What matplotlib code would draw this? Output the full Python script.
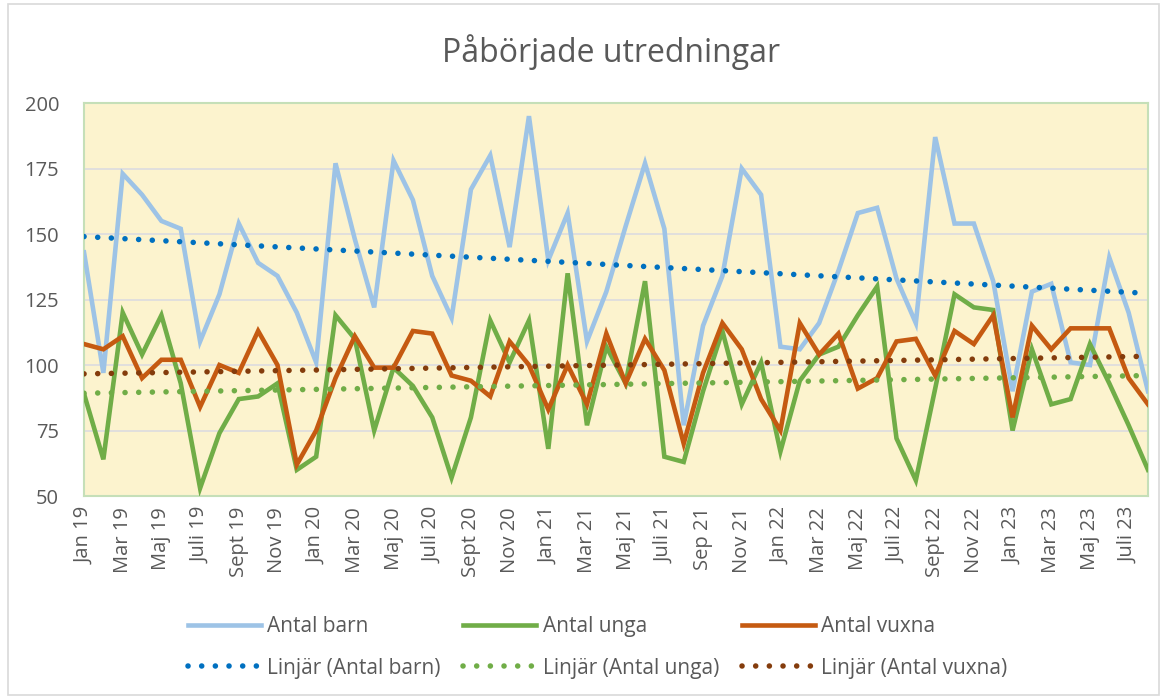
import numpy as np
import matplotlib
matplotlib.use("Agg")
import matplotlib.pyplot as plt
from matplotlib.patches import Rectangle

months = [
    "Jan 19", "Feb 19", "Mar 19", "Apr 19", "Maj 19", "Jun 19", "Juli 19", "Aug 19", "Sept 19", "Okt 19", "Nov 19", "Dec 19",
    "Jan 20", "Feb 20", "Mar 20", "Apr 20", "Maj 20", "Jun 20", "Juli 20", "Aug 20", "Sept 20", "Okt 20", "Nov 20", "Dec 20",
    "Jan 21", "Feb 21", "Mar 21", "Apr 21", "Maj 21", "Jun 21", "Juli 21", "Aug 21", "Sep 21", "Okt 21", "Nov 21", "Dec 21",
    "Jan 22", "Feb 22", "Mar 22", "Apr 22", "Maj 22", "Jun 22", "Juli 22", "Aug 22", "Sept 22", "Okt 22", "Nov 22", "Dec 22",
    "Jan 23", "Feb 23", "Mar 23", "Apr 23", "Maj 23", "Jun 23", "Juli 23", "Aug 23",
]

antal_barn = [
    143, 97, 173, 165, 155, 152, 109, 127, 154, 139, 134, 120,
    101, 177, 148, 122, 178, 163, 134, 118, 167, 180, 145, 195,
    140, 158, 109, 128, 153, 177, 152, 77, 115, 134, 175, 165,
    107, 106, 116, 136, 158, 160, 133, 116, 187, 154, 154, 132,
    90, 128, 131, 101, 100, 141, 120, 90,
]
antal_unga = [
    89, 64, 120, 104, 119, 93, 53, 74, 87, 88, 93, 60,
    65, 119, 110, 75, 99, 92, 80, 57, 80, 117, 101, 117,
    68, 135, 77, 107, 93, 132, 65, 63, 90, 113, 85, 101,
    67, 94, 104, 107, 119, 130, 72, 56, 91, 127, 122, 121,
    75, 106, 85, 87, 108, 93, 77, 60,
]
antal_vuxna = [
    108, 106, 111, 95, 102, 102, 84, 100, 97, 113, 100, 62,
    75, 95, 111, 99, 99, 113, 112, 96, 94, 88, 109, 100,
    83, 100, 85, 112, 93, 110, 98, 70, 97, 116, 106, 87,
    75, 116, 104, 112, 91, 95, 109, 110, 96, 113, 108, 119,
    80, 115, 106, 114, 114, 114, 95, 85,
]

series = [
    ("Antal barn", antal_barn, "#9DC3E6", "#0070C0"),
    ("Antal unga", antal_unga, "#70AD47", "#70AD47"),
    ("Antal vuxna", antal_vuxna, "#C55A11", "#843C0C"),
]

plt.rcParams["font.family"] = ["Open Sans", "DejaVu Sans"]
text_col = "#595959"

fig = plt.figure(figsize=(11.67, 6.99), dpi=100)
ax = fig.add_axes([0.072, 0.2904, 0.9117, 0.5622])
ax.set_facecolor("#FCF3CE")

x = np.arange(len(months))
handles = []
for name, vals, col, tcol in series:
    line, = ax.plot(x, vals, color=col, lw=3.3, solid_joinstyle="miter", zorder=3, label=name)
    # linear trend like Excel's "Linjär" trendline
    k, m = np.polyfit(x, vals, 1)
    trend, = ax.plot(x, k * x + m, color=tcol, lw=4.0, linestyle=(0, (0.01, 2.45)),
                     dash_capstyle="round", zorder=4, label="Linjär (" + name + ")")
    handles += [line, trend]

ax.set_xlim(0, len(months) - 1)
ax.set_ylim(50, 200)
ax.set_yticks([50, 75, 100, 125, 150, 175, 200])
ax.set_xticks(x[::2])
ax.set_xticklabels(months[::2], rotation=90)
ax.tick_params(axis="both", length=0, colors=text_col, labelsize=14.5)
ax.tick_params(axis="y", pad=18)
ax.tick_params(axis="x", pad=8)
ax.grid(axis="y", color="#DCDCE0", lw=1.2, zorder=1)
for s in ax.spines.values():
    s.set_color("#C5DFB8")
    s.set_linewidth(1.5)

fig.text(0.524, 0.925, "Påbörjade utredningar", ha="center", va="center", fontsize=23, color=text_col)

fig.legend(handles=handles, loc="center", bbox_to_anchor=(0.512, 0.074), ncol=3, frameon=False,
           fontsize=15, labelcolor=text_col, handlelength=3.5, handletextpad=0.3,
           columnspacing=1.1, labelspacing=1.0)

fig.patches.append(Rectangle((0.007, 0.006), 0.986, 0.988, transform=fig.transFigure,
                             fill=False, edgecolor="#D9D9D9", lw=1.2))

fig.savefig("out.png", dpi=100)
